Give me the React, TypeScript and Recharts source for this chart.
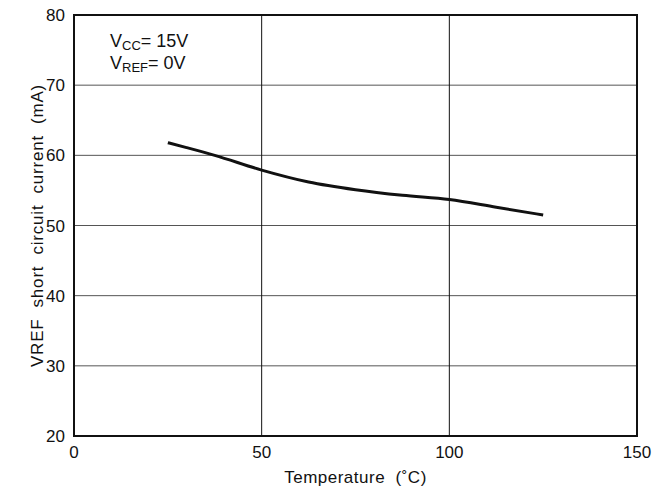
import React from 'react';
import {
  LineChart,
  Line,
  XAxis,
  YAxis,
  CartesianGrid,
  Label,
  Customized,
  ReferenceArea,
} from 'recharts';

const temperature = [25, 30, 37.5, 50, 62.5, 75, 87.5, 100, 112.5, 125];
const current = [61.8, 61.1, 60.0, 57.9, 56.2, 55.1, 54.3, 53.7, 52.6, 51.5];
const xTicks = [0, 50, 100, 150];
const yTicks = [20, 30, 40, 50, 60, 70, 80];
const GAP = '\u00a0\u00a0';
const xTitle = ['Temperature', '(˚C)'].join(GAP);
const yTitle = ['VREF', 'short', 'circuit', 'current', '(mA)'].join(GAP);

const data = temperature.map((t, i) => ({ t, i: current[i] }));

const FONT = '"Liberation Sans", Arial, sans-serif';

const Annotation = () => (
  <g fontFamily={FONT} fill="#111">
    <text x={110} y={47} fontSize={18}>
      V<tspan fontSize={13} dy={3}>CC</tspan>
      <tspan dy={-3}>= 15V</tspan>
    </text>
    <text x={110} y={69} fontSize={18}>
      V<tspan fontSize={13} dy={3}>REF</tspan>
      <tspan dy={-3}>= 0V</tspan>
    </text>
  </g>
);

export default function App() {
  return (
    <div style={{ position: 'absolute', left: 0, top: 0, background: '#fff' }}>
      <LineChart
        width={666}
        height={491}
        data={data}
        margin={{ top: 15, right: 29, left: 0, bottom: 0 }}
      >
        <CartesianGrid horizontal={true} vertical={false} stroke="#555" strokeWidth={1} />
        <CartesianGrid horizontal={false} vertical={true} stroke="#111" strokeWidth={1} />
        <XAxis
          dataKey="t"
          type="number"
          domain={[0, 150]}
          ticks={xTicks}
          tickLine={false}
          tickSize={0}
          tickMargin={10}
          axisLine={false}
          height={55}
          tick={{ fontSize: 17, fill: '#111', fontFamily: FONT }}
        >
          <Label
            value={xTitle}
            position="insideBottom"
            offset={8}
            style={{ fontSize: 17, fill: '#111', fontFamily: FONT, letterSpacing: 0.5 }}
          />
        </XAxis>
        <YAxis
          type="number"
          domain={[20, 80]}
          ticks={yTicks}
          tickLine={false}
          tickSize={0}
          tickMargin={9}
          axisLine={false}
          width={74}
          tick={{ fontSize: 17, fill: '#111', fontFamily: FONT }}
        >
          <Label
            value={yTitle}
            position="center"
            angle={-90}
            style={{ fontSize: 17, fill: '#111', fontFamily: FONT, letterSpacing: 0.8 }}
          />
        </YAxis>
        <ReferenceArea
          x1={0}
          x2={150}
          y1={20}
          y2={80}
          fill="none"
          fillOpacity={0}
          stroke="#111"
          strokeWidth={2}
          ifOverflow="visible"
        />
        <Line
          type="monotone"
          dataKey="i"
          stroke="#111"
          strokeWidth={3}
          dot={false}
          isAnimationActive={false}
        />
        <Customized component={Annotation} />
      </LineChart>
    </div>
  );
}
